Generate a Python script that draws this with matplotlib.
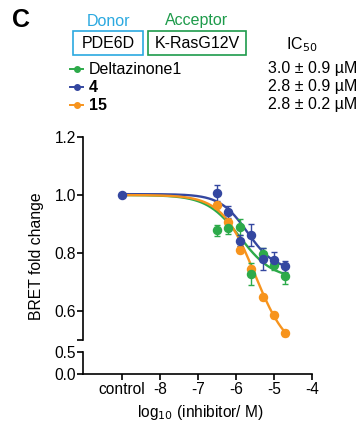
import numpy as np
import matplotlib
matplotlib.use("Agg")
import matplotlib.pyplot as plt
from matplotlib.lines import Line2D
from matplotlib.patches import Rectangle

plt.rcParams['font.family'] = ['Liberation Sans', 'DejaVu Sans']

# ---- data ----
control_x = -9.0
log_conc = [-6.5, -6.2, -5.9, -5.6, -5.3, -5.0, -4.7]

series_names = ["Deltazinone1", "4", "15"]
series_bold = [False, True, True]
ic50_labels = ["3.0 ± 0.9 µM", "2.8 ± 0.9 µM", "2.8 ± 0.2 µM"]
colors = ["#2DAA4A", "#3447A0", "#F7941D"]

delta_y = [0.878, 0.885, 0.889, 0.727, 0.797, 0.760, 0.721]
delta_err = [0.019, 0.020, 0.027, 0.037, 0.020, 0.020, 0.028]
c4_y = [1.006, 0.942, 0.843, 0.862, 0.779, 0.776, 0.754]
c4_err = [0.028, 0.020, 0.020, 0.038, 0.038, 0.028, 0.020]
c15_y = [0.966, 0.908, 0.811, 0.744, 0.647, 0.585, 0.524]
c15_err = [0.010, 0.010, 0.012, 0.012, 0.010, 0.010, 0.010]

# fitted dose-response parameters: top, bottom, logIC50, hill
fit_params = [
    (1.0, 0.71, -5.9, 1.0),
    (1.003, 0.74, -5.7, 1.2),
    (1.0, 0.45, -5.5, 1.0),
]

ys = [delta_y, c4_y, c15_y]
errs = [delta_err, c4_err, c15_err]

xtick_vals = [-9, -8, -7, -6, -5, -4]
xtick_labels = ["control", "-8", "-7", "-6", "-5", "-4"]

# ---- figure ----
W, H = 362, 426
fig = plt.figure(figsize=(W / 100, H / 100), dpi=100)

def fx(px):
    return px / W

def fy(py):
    return 1 - py / H

left, right = 83, 312
ax = fig.add_axes([fx(left), fy(340), fx(right - left), fy(137) - fy(340)])
axb = fig.add_axes([fx(left), fy(374), fx(right - left), fy(352) - fy(374)])

xlim = (-10.03, -4.0)
for a in (ax, axb):
    a.set_xlim(*xlim)
    a.spines['top'].set_visible(False)
    a.spines['right'].set_visible(False)
    a.spines['left'].set_linewidth(1.2)
    a.spines['bottom'].set_linewidth(1.2)
    a.tick_params(width=1.2, length=4, labelsize=11.2, pad=1)

ax.spines['bottom'].set_visible(False)
ax.set_ylim(0.5, 1.2)
ax.set_yticks([0.5, 0.6, 0.8, 1.0, 1.2])
ax.set_yticklabels(["", "0.6", "0.8", "1.0", "1.2"])
ax.tick_params(axis='x', bottom=False, labelbottom=False)

axb.set_ylim(0.0, 0.5)
axb.set_yticks([0.0, 0.5])
axb.set_yticklabels(["0.0", "0.5"])
axb.set_xticks(xtick_vals)
axb.set_xticklabels(xtick_labels)
axb.tick_params(axis='x', pad=2)

for i in range(3):
    top, bot, c, h = fit_params[i]
    xx = np.linspace(control_x, log_conc[-1], 300)
    yy = bot + (top - bot) / (1 + 10 ** ((xx - c) * h))
    ax.plot(xx, yy, color=colors[i], lw=1.7, zorder=2 + i * 0.1, clip_on=False)

order = [2, 0, 1]
for i in order:
    ax.errorbar(log_conc, ys[i], yerr=errs[i], fmt='o', color=colors[i],
                ms=5.8, capsize=2.5, elinewidth=1.0, capthick=1.0, zorder=4,
                clip_on=False)
ax.plot([control_x], [1.0], 'o', color=colors[1], ms=5.8, zorder=5)

fig.text(fx(37), fy(256), "BRET fold change", rotation=90, ha='center',
         va='center', fontsize=11.3)
fig.text(fx(200), fy(413), r"log$_{10}$ (inhibitor/ M)", ha='center',
         va='center', fontsize=11.2)

# ---- header ----
fig.text(fx(12), fy(20), "C", fontsize=18, fontweight='bold', ha='left',
         va='center')
fig.text(fx(108), fy(21), "Donor", color="#2BA9E0", fontsize=11.5,
         ha='center', va='center')
fig.text(fx(197), fy(21), "Acceptor", color="#1E9B4B", fontsize=11.5,
         ha='center', va='center')
fig.add_artist(Rectangle((fx(73), fy(55)), fx(143 - 73), fy(31) - fy(55),
                         transform=fig.transFigure, fill=False,
                         edgecolor="#2BA9E0", lw=1.2))
fig.add_artist(Rectangle((fx(148), fy(55)), fx(246 - 148), fy(31) - fy(55),
                         transform=fig.transFigure, fill=False,
                         edgecolor="#1E9B4B", lw=1.2))
fig.text(fx(108), fy(44), "PDE6D", fontsize=11.5, ha='center', va='center')
fig.text(fx(197), fy(44), "K-RasG12V", fontsize=11.5, ha='center', va='center')
fig.text(fx(302), fy(45), r"IC$_{50}$", fontsize=11.5, ha='center',
         va='center')

row_y = [69, 87, 105]
for i in range(3):
    fig.add_artist(Line2D([fx(70), fx(83)], [fy(row_y[i]), fy(row_y[i])],
                          transform=fig.transFigure, color=colors[i], lw=1.4))
    fig.add_artist(Line2D([fx(76.5)], [fy(row_y[i])],
                          transform=fig.transFigure, color=colors[i],
                          marker='o', ms=4, lw=0))
    fig.text(fx(89), fy(row_y[i]), series_names[i], fontsize=11.5,
             fontweight='bold' if series_bold[i] else 'normal',
             ha='left', va='center')
    fig.text(fx(357), fy(row_y[i]), ic50_labels[i], fontsize=11.5,
             ha='right', va='center')

fig.savefig("out.png", dpi=100)
